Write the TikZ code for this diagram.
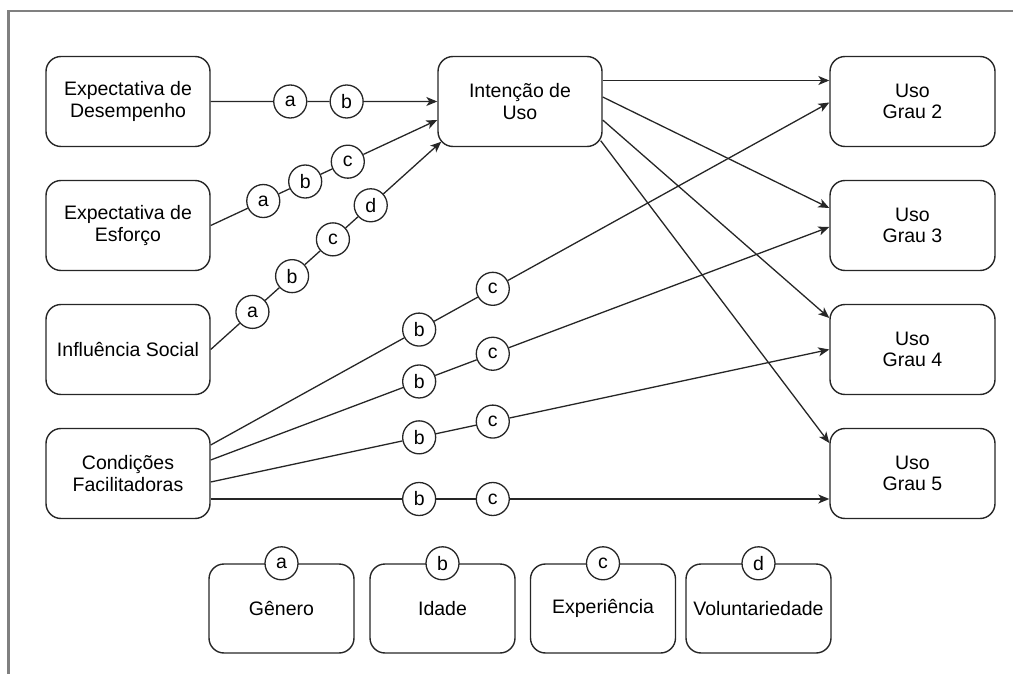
\documentclass[tikz,border=0pt]{standalone}
\usepackage{fontspec}
\setmainfont{Liberation Sans}
\usetikzlibrary{calc,arrows.meta}
\begin{document}
\begin{tikzpicture}[x=1pt,y=-1pt,
  txt/.style={font=\fontsize{19.5}{21.5}\selectfont},
  box/.style={txt,draw=black!85,line width=1.4pt,rounded corners=15pt,
    minimum width=164pt,minimum height=90pt,align=center,inner sep=0pt},
  usebox/.style={box,minimum width=165pt},
  modbox/.style={box,minimum width=145pt,minimum height=89pt},
  tag/.style={txt,draw=black!85,circle,line width=1.3pt,minimum size=33pt,
    inner sep=0pt,fill=white},
  link/.style={draw=black!85,line width=1.3pt},
  arr/.style={link,-{Stealth[length=11pt,width=9pt,inset=3pt]}},
  frame/.style={draw=black!50,line width=2.3pt}]
\useasboundingbox (0,0) rectangle (1013,674);

% outer frame
\draw[frame] (8.5,674) -- (8.5,10.7) -- (1013,10.7);

% constructs
\node[box] (ed) at (128,101.5) {Expectativa de\\Desempenho};
\node[box] (es) at (128,225.5) {Expectativa de\\Esforço};
\node[box] (is) at (128,349.5) {Influência Social};
\node[box] (cf) at (128,473.5) {Condições\\Facilitadoras};
\node[box] (iu) at (520,101.5) {Intenção de\\Uso};
\node[usebox] (u2) at (912.5,101.5) {Uso\\Grau 2};
\node[usebox] (u3) at (912.5,225.5) {Uso\\Grau 3};
\node[usebox] (u4) at (912.5,349.5) {Uso\\Grau 4};
\node[usebox] (u5) at (912.5,473.5) {Uso\\Grau 5};

% moderators
\node[modbox] (ge) at (281.5,608.5) {Gênero};
\node[modbox] (id) at (442.5,608.5) {Idade};
\node[modbox] (ex) at (603,608.5) {Experiência};
\node[modbox] (vo) at (758.5,608.5) {Voluntariedade};
\node[tag] (ka) at (ge.north) {a};
\node[tag] (kb) at (id.north) {b};
\node[tag] (kc) at (ex.north) {c};
\node[tag] (kd) at (vo.north) {d};

% end points on the box borders
\coordinate (e2) at ($(iu.west)+(0,18.5)$);
\coordinate (e3) at ($(iu.south west)+(4,-5.5)$);
\coordinate (c1) at ($(cf.east)+(0,-28.5)$);
\coordinate (c2) at ($(cf.east)+(0,-13.5)$);
\coordinate (c3) at ($(cf.east)+(0,8.5)$);
\coordinate (c4) at ($(cf.east)+(0,25.5)$);
\coordinate (t2) at ($(u2.west)+(0,1)$);
\coordinate (t3) at ($(u3.west)+(0,1.5)$);
\coordinate (t4) at (u4.west);
\coordinate (t5) at ($(u5.west)+(0,25.5)$);
\coordinate (o2) at ($(iu.east)+(0,-21)$);
\coordinate (o3) at ($(iu.east)+(0,-4.5)$);
\coordinate (o4) at ($(iu.east)+(0,18.5)$);
\coordinate (o5) at ($(iu.south east)+(-2,-6.5)$);
\coordinate (g2) at ($(u2.west)+(0,-21)$);
\coordinate (g3) at ($(u3.west)+(0,-17.5)$);
\coordinate (g4) at ($(u4.west)+(0,-31.5)$);
\coordinate (g5) at ($(u5.west)+(0,-30.5)$);

% moderator tags on the paths
\node[tag] (a1) at ($(ed.east)!0.351!(iu.west)$) {a};
\node[tag] (b1) at ($(ed.east)!0.600!(iu.west)$) {b};

\node[tag] (a2) at ($(es.east)!0.232!(e2)$) {a};
\node[tag] (b2) at ($(es.east)!0.417!(e2)$) {b};
\node[tag] (c2t) at ($(es.east)!0.605!(e2)$) {c};

\node[tag] (a3) at ($(is.east)!0.181!(e3)$) {a};
\node[tag] (b3) at ($(is.east)!0.353!(e3)$) {b};
\node[tag] (c3t) at ($(is.east)!0.530!(e3)$) {c};
\node[tag] (d3) at ($(is.east)!0.694!(e3)$) {d};

\node[tag] (b4) at ($(c1)!0.337!(t2)$) {b};
\node[tag] (c4t) at ($(c1)!0.456!(t2)$) {c};
\node[tag] (b5) at ($(c2)!0.337!(t3)$) {b};
\node[tag] (c5t) at ($(c2)!0.456!(t3)$) {c};
\node[tag] (b6) at ($(c3)!0.337!(t4)$) {b};
\node[tag] (c6t) at ($(c3)!0.456!(t4)$) {c};
\node[tag] (b7) at ($(c4)!0.337!(t5)$) {b};
\node[tag] (c7t) at ($(c4)!0.456!(t5)$) {c};

% paths into Intencao de Uso
\draw[arr] (ed.east) -- (a1) -- (b1) -- (iu.west);
\draw[arr] (es.east) -- (a2) -- (b2) -- (c2t) -- (e2);
\draw[arr] (is.east) -- (a3) -- (b3) -- (c3t) -- (d3) -- (e3);

% paths from Condicoes Facilitadoras
\draw[arr] (c1) -- (b4) -- (c4t) -- (t2);
\draw[arr] (c2) -- (b5) -- (c5t) -- (t3);
\draw[arr] (c3) -- (b6) -- (c6t) -- (t4);
\draw[arr] (c4) -- (b7) -- (c7t) -- (t5);

% paths from Intencao de Uso
\draw[arr] (o2) -- (g2);
\draw[arr] (o3) -- (g3);
\draw[arr] (o4) -- (g4);
\draw[arr] (o5) -- (g5);
\end{tikzpicture}
\end{document}
